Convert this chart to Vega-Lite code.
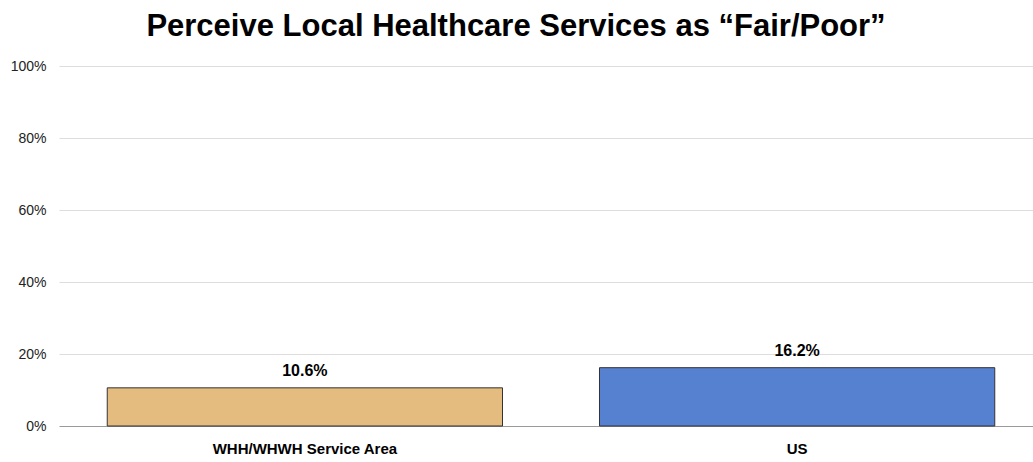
{
  "$schema": "https://vega.github.io/schema/vega-lite/v6.json",
  "autosize": "none",
  "width": 984,
  "height": 360,
  "padding": {"left": 59, "top": 66, "right": 0, "bottom": 36},
  "background": "white",
  "title": {
    "text": "Perceive Local Healthcare Services as “Fair/Poor”",
    "font": "Liberation Sans",
    "fontSize": 31,
    "fontWeight": "bold",
    "color": "#000000",
    "anchor": "middle",
    "dx": -35,
    "offset": 16
  },
  "config": {
    "view": {"stroke": null},
    "font": "Liberation Sans"
  },
  "data": {
    "values": [
      {"area": "WHH/WHWH Service Area", "pct": 0.106, "label": "10.6%"},
      {"area": "US", "pct": 0.162, "label": "16.2%"}
    ]
  },
  "encoding": {
    "x": {
      "field": "area",
      "type": "nominal",
      "sort": null,
      "scale": {"paddingInner": 0.197, "paddingOuter": 0.098},
      "axis": {
        "title": null,
        "labelAngle": 0,
        "labelFont": "Liberation Sans",
        "labelFontSize": 15,
        "labelFontWeight": "bold",
        "labelColor": "#000000",
        "labelPadding": 15,
        "labelLimit": 400,
        "domain": false,
        "ticks": false
      }
    },
    "y": {
      "field": "pct",
      "type": "quantitative",
      "scale": {"domain": [0, 1]},
      "axis": {
        "title": null,
        "values": [0, 0.2, 0.4, 0.6, 0.8, 1],
        "format": ".0%",
        "labelFont": "Liberation Sans",
        "labelFontSize": 14,
        "labelColor": "#222222",
        "labelPadding": 13,
        "domain": false,
        "ticks": false,
        "gridColor": {"condition": {"test": "datum.value === 0", "value": "#9a9a9a"}, "value": "#dddddd"},
        "gridWidth": 1
      }
    }
  },
  "layer": [
    {
      "mark": {"type": "bar", "stroke": "#333333", "strokeWidth": 1},
      "encoding": {
        "color": {
          "field": "area",
          "type": "nominal",
          "scale": {"domain": ["WHH/WHWH Service Area", "US"], "range": ["#E4BC7F", "#5680D0"]},
          "legend": null
        }
      }
    },
    {
      "mark": {"type": "text", "baseline": "bottom", "dy": -9, "font": "Liberation Sans", "fontSize": 16, "fontWeight": "bold", "color": "#000000"},
      "encoding": {"text": {"field": "label"}}
    }
  ]
}
